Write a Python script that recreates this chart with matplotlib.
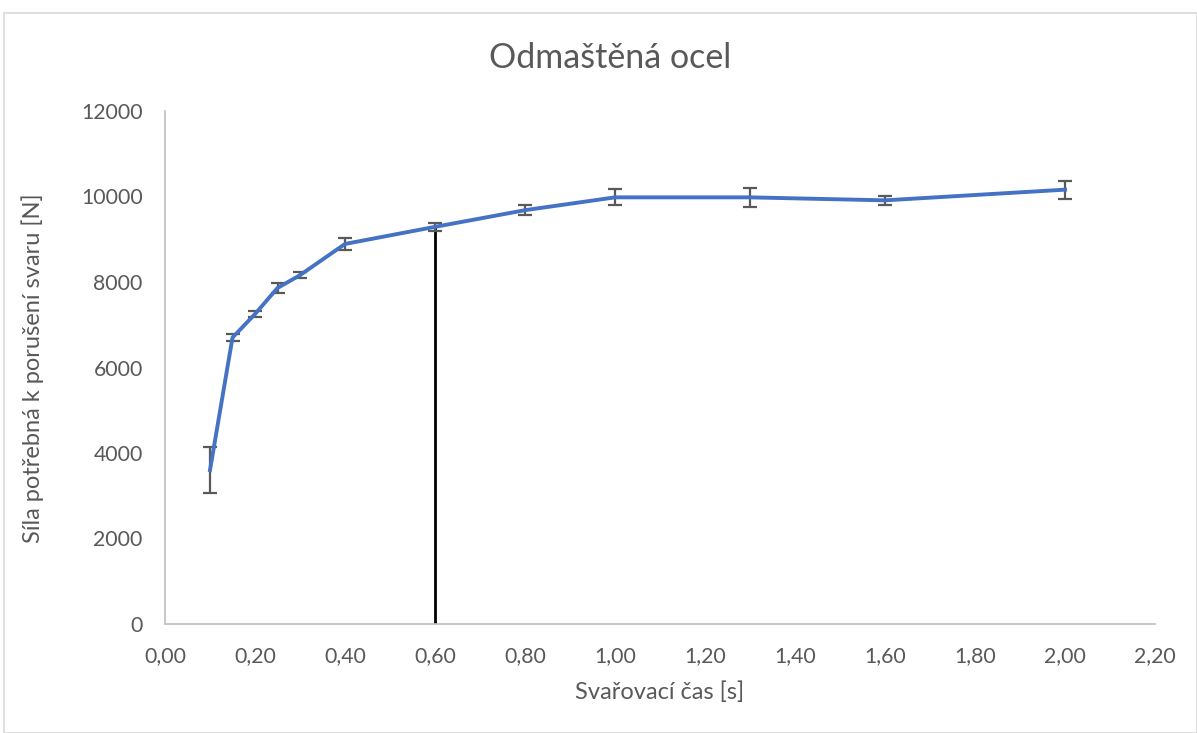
import matplotlib
matplotlib.use("Agg")
import matplotlib.pyplot as plt
from matplotlib.patches import Rectangle

plt.rcParams['font.family'] = ['Lato', 'DejaVu Sans']

time_s = [0.10, 0.15, 0.20, 0.25, 0.30, 0.40, 0.60, 0.80, 1.00, 1.30, 1.60, 2.00]
force_n = [3600, 6700, 7250, 7860, 8160, 8890, 9290, 9680, 9980, 9980, 9910, 10160]
error_n = [530, 80, 80, 125, 70, 150, 90, 110, 190, 215, 113, 214]
marker_x = 0.60
marker_y = 9290

x_ticks = [0.0, 0.2, 0.4, 0.6, 0.8, 1.0, 1.2, 1.4, 1.6, 1.8, 2.0, 2.2]
y_ticks = [0, 2000, 4000, 6000, 8000, 10000, 12000]

W, H = 1197, 733
fig = plt.figure(figsize=(W / 100, H / 100), dpi=100)
fig.patches.append(Rectangle((4 / W, 0), (W - 4) / W, 1 - 13 / H, transform=fig.transFigure,
                             fill=False, edgecolor='#D9D9D9', linewidth=1.2))

ax = fig.add_axes([165 / W, 1 - 624 / H, (1155 - 165) / W, (624 - 111) / H])
txt = '#595959'

ax.plot([marker_x, marker_x], [0, marker_y], color='black', linewidth=2, zorder=2)
ax.errorbar(time_s, force_n, yerr=error_n, color='#4472C4', linewidth=2.8,
            ecolor='#595959', elinewidth=1.6, capsize=5, capthick=1.6, zorder=3)

ax.set_xlim(0, 2.2)
ax.set_ylim(0, 12000)
ax.set_xticks(x_ticks)
ax.set_xticklabels([f"{v:.2f}".replace('.', ',') for v in x_ticks])
ax.set_yticks(y_ticks)
ax.set_yticklabels([str(v) for v in y_ticks])
ax.tick_params(axis='both', length=0, labelsize=15.3, colors=txt)
ax.tick_params(axis='x', pad=16)
ax.tick_params(axis='y', pad=16)

for s in ['top', 'right']:
    ax.spines[s].set_visible(False)
for s in ['left', 'bottom']:
    ax.spines[s].set_color('#BFBFBF')
    ax.spines[s].set_linewidth(1.2)

fig.text(610 / W, 1 - 58 / H, 'Odmaštěná ocel', ha='center', va='center', fontsize=24.5, color=txt)
fig.text(660 / W, 1 - 692 / H, 'Svařovací čas [s]', ha='center', va='center', fontsize=17, color=txt)
fig.text(33 / W, 1 - 368 / H, 'Síla potřebná k porušení svaru [N]', ha='center', va='center',
         rotation=90, fontsize=17, color=txt)

fig.savefig('out.png', dpi=100)
